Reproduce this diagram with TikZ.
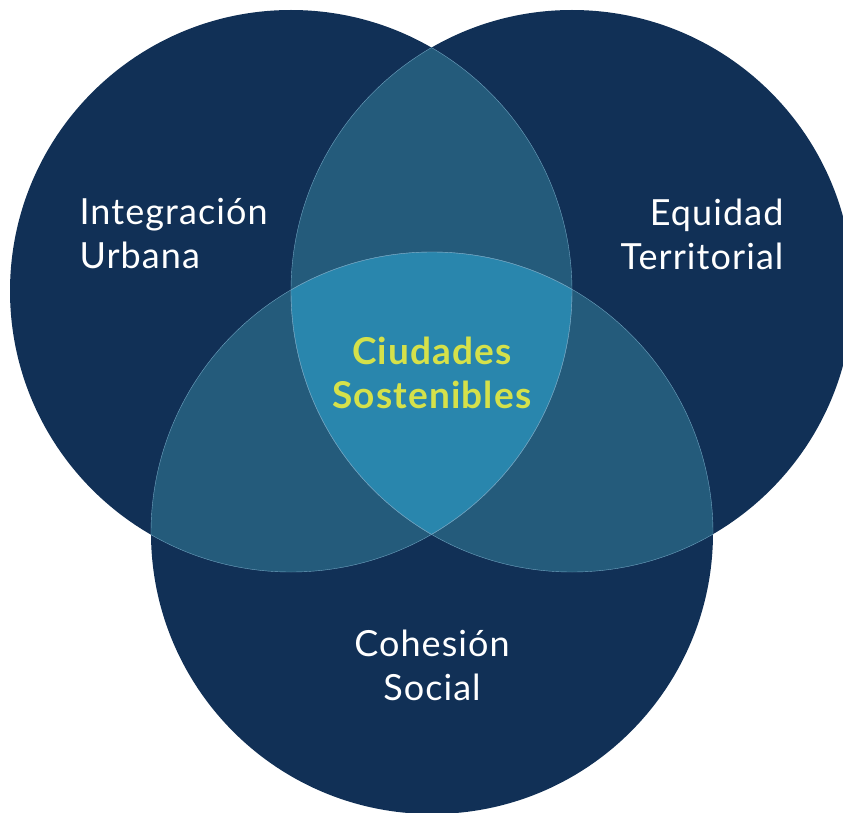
\documentclass[tikz,border=0pt]{standalone}
\usepackage{fontspec}
\setmainfont{Lato}[LetterSpace=3]
\usepackage{tikz}
\definecolor{vennnavy}{HTML}{113056}
\definecolor{vennmid}{HTML}{245B7B}
\definecolor{venncore}{HTML}{2986AD}
\definecolor{vennlime}{HTML}{D5E14A}
\definecolor{vennedge}{HTML}{6FA3C0}

\begin{document}
\begin{tikzpicture}[x=1pt, y=-1pt,
    setlabel/.style={text=white, font=\fontsize{36}{44}\selectfont},
    corelabel/.style={text=vennlime, font=\fontsize{37}{44}\selectfont\bfseries, align=center},
    rim/.style={draw=vennedge, line width=0.4pt}
]
\useasboundingbox (0,0) rectangle (843,813);
\clip (0,0) rectangle (843,813);

\coordinate (cl) at (291,291);
\coordinate (cr) at (572,291);
\coordinate (cb) at (432,533);

% the three sets
\fill[vennnavy] (cl) circle (281pt);
\fill[vennnavy] (cr) circle (281pt);
\fill[vennnavy] (cb) circle (281pt);

% pairwise overlaps
\begin{scope}
  \clip (cl) circle (281pt);
  \fill[vennmid] (cr) circle (281pt);
  \fill[vennmid] (cb) circle (281pt);
\end{scope}
\begin{scope}
  \clip (cr) circle (281pt);
  \fill[vennmid] (cb) circle (281pt);
\end{scope}

% centre
\begin{scope}
  \clip (cl) circle (281pt);
  \clip (cr) circle (281pt);
  \fill[venncore] (cb) circle (281pt);
\end{scope}

% thin rims inside the overlaps
\begin{scope}
  \clip (cl) circle (281pt);
  \draw[rim] (cr) circle (281pt);
  \draw[rim] (cb) circle (281pt);
\end{scope}
\begin{scope}
  \clip (cr) circle (281pt);
  \draw[rim] (cl) circle (281pt);
  \draw[rim] (cb) circle (281pt);
\end{scope}
\begin{scope}
  \clip (cb) circle (281pt);
  \draw[rim] (cl) circle (281pt);
  \draw[rim] (cr) circle (281pt);
\end{scope}

\node[setlabel, anchor=west, align=left] (urbana) at (76,234) {Integración\\Urbana};
\node[setlabel, anchor=east, align=right] (territorial) at (787,234) {Equidad\\Territorial};
\node[setlabel, align=center] (social) at (432,665) {Cohesión\\Social};
\node[corelabel] (core) at (432,373) {Ciudades\\Sostenibles};
\end{tikzpicture}
\end{document}
